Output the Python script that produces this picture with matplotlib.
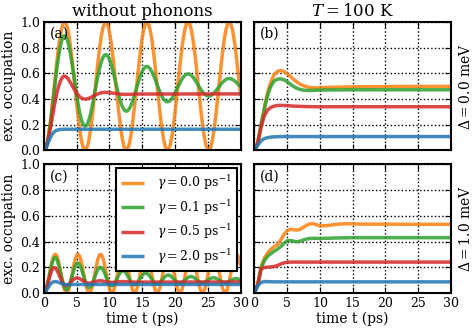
import numpy as np
import matplotlib
matplotlib.use("Agg")
import matplotlib.pyplot as plt

# ---- data (occupation vs time in ps) ----
gamma_labels = [r"$\gamma=0.0$ ps$^{-1}$", r"$\gamma=0.1$ ps$^{-1}$",
                r"$\gamma=0.5$ ps$^{-1}$", r"$\gamma=2.0$ ps$^{-1}$"]
colors = ["#ff7f0e", "#2ca02c", "#d62728", "#1f77b4"]

# sample grid of the oscillating curves (0.25 ps)
t_fine = np.arange(0, 30.001, 0.25)

# (a) without phonons, Delta = 0
a_orange = [0.000, 0.016, 0.061, 0.134,
            0.230, 0.342, 0.465, 0.589,
            0.708, 0.814, 0.901, 0.962,
            0.995, 0.997, 0.968, 0.910,
            0.827, 0.723, 0.605, 0.481,
            0.358, 0.244, 0.146, 0.069,
            0.020, 0.000, 0.012, 0.054,
            0.123, 0.216, 0.327, 0.448,
            0.573, 0.693, 0.801, 0.890,
            0.956, 0.992, 0.999, 0.974,
            0.920, 0.841, 0.738, 0.622,
            0.498, 0.374, 0.258, 0.157,
            0.078, 0.025, 0.001, 0.008,
            0.046, 0.112, 0.203, 0.311,
            0.432, 0.556, 0.677, 0.788,
            0.880, 0.948, 0.989, 1.000,
            0.979, 0.928, 0.852, 0.754,
            0.638, 0.514, 0.390, 0.273,
            0.170, 0.087, 0.030, 0.002,
            0.006, 0.040, 0.102, 0.189,
            0.296, 0.415, 0.540, 0.662,
            0.774, 0.869, 0.941, 0.986,
            1.000, 0.983, 0.937, 0.863,
            0.766, 0.654, 0.531, 0.406,
            0.288, 0.182, 0.097, 0.036,
            0.004, 0.003, 0.033, 0.092,
            0.177, 0.281, 0.399, 0.523,
            0.646, 0.760, 0.858, 0.933,
            0.981, 1.000, 0.987, 0.944,
            0.874, 0.780, 0.669, 0.548,
            0.423]
a_green = [0.000, 0.015, 0.060, 0.130,
           0.220, 0.324, 0.435, 0.546,
           0.650, 0.741, 0.813, 0.864,
           0.891, 0.893, 0.870, 0.826,
           0.763, 0.687, 0.601, 0.513,
           0.427, 0.349, 0.283, 0.233,
           0.201, 0.188, 0.195, 0.221,
           0.262, 0.317, 0.381, 0.450,
           0.520, 0.585, 0.643, 0.690,
           0.724, 0.743, 0.746, 0.734,
           0.708, 0.671, 0.623, 0.571,
           0.515, 0.462, 0.412, 0.369,
           0.337, 0.315, 0.306, 0.308,
           0.323, 0.348, 0.381, 0.420,
           0.463, 0.507, 0.548, 0.585,
           0.615, 0.638, 0.651, 0.654,
           0.647, 0.632, 0.610, 0.582,
           0.549, 0.514, 0.480, 0.449,
           0.422, 0.400, 0.386, 0.379,
           0.380, 0.388, 0.403, 0.423,
           0.447, 0.473, 0.501, 0.527,
           0.550, 0.570, 0.584, 0.593,
           0.596, 0.593, 0.584, 0.571,
           0.553, 0.533, 0.512, 0.490,
           0.471, 0.453, 0.439, 0.430,
           0.425, 0.425, 0.429, 0.438,
           0.450, 0.465, 0.481, 0.498,
           0.515, 0.530, 0.542, 0.552,
           0.558, 0.560, 0.558, 0.553,
           0.545, 0.535, 0.522, 0.509,
           0.496]
t_a_red = [0.0, 0.25, 0.5, 0.75, 1.0, 1.25, 1.5, 1.75, 2.0, 2.25, 2.5, 2.75,
           3.0, 3.25, 3.5, 3.75, 4.0, 4.25, 4.5, 4.75, 5.0, 5.25, 5.5, 5.75,
           6.0, 6.25, 6.5, 6.75, 7.0, 7.25, 7.5, 7.75, 8.0, 8.25, 8.5, 8.75,
           9.0, 9.25, 9.5, 9.75, 10.0, 10.5, 11.0, 11.5, 12.0, 13.0, 14.0, 30.0]
a_red = [0.000, 0.015, 0.054, 0.112, 0.181, 0.255, 0.328, 0.396, 0.455, 0.502, 0.540, 0.565,
         0.578, 0.578, 0.568, 0.552, 0.531, 0.509, 0.486, 0.465, 0.445, 0.429, 0.416, 0.407,
         0.402, 0.400, 0.401, 0.404, 0.409, 0.415, 0.422, 0.429, 0.435, 0.441, 0.445, 0.449,
         0.451, 0.452, 0.452, 0.452, 0.450, 0.447, 0.443, 0.439, 0.437, 0.437, 0.439, 0.440]
t_a_blue = [0.0, 0.25, 0.5, 0.75, 1.0, 1.25, 1.5, 1.75, 2.0, 2.25, 2.5, 2.75, 3.0, 30.0]
a_blue = [0.000, 0.012, 0.040, 0.075, 0.103, 0.126, 0.142, 0.152, 0.158, 0.161, 0.163, 0.164,
          0.165, 0.165]

# (b) T = 100 K, Delta = 0
t_b = [0.0, 0.5, 1.0, 1.5, 2.0, 2.5, 3.0, 3.5, 4.0, 4.5, 5.0, 5.5, 6.0, 6.5, 7.0, 7.5,
       8.0, 8.5, 9.0, 9.5, 10.0, 12.0, 15.0, 20.0, 25.0, 30.0]
b_orange = [0.000, 0.060, 0.200, 0.330, 0.450, 0.535, 0.590, 0.615, 0.622, 0.615, 0.598,
            0.575, 0.552, 0.532, 0.515, 0.503, 0.495, 0.490, 0.488, 0.488, 0.489,
            0.492, 0.495, 0.497, 0.498, 0.498]
b_green = [0.000, 0.060, 0.195, 0.320, 0.430, 0.500, 0.540, 0.555, 0.557, 0.550, 0.535,
           0.515, 0.497, 0.483, 0.474, 0.469, 0.467, 0.467, 0.468, 0.469, 0.470,
           0.471, 0.472, 0.472, 0.472, 0.472]
b_red = [0.000, 0.060, 0.180, 0.270, 0.315, 0.335, 0.345, 0.350, 0.351, 0.350, 0.349,
         0.347, 0.345, 0.344, 0.343, 0.342, 0.341, 0.341, 0.340, 0.340, 0.340,
         0.340, 0.340, 0.340, 0.340, 0.340]
b_blue = [0.000, 0.040, 0.075, 0.092, 0.100, 0.104, 0.106, 0.107, 0.108, 0.108, 0.108,
          0.108, 0.108, 0.108, 0.108, 0.108, 0.108, 0.108, 0.108, 0.108, 0.108,
          0.108, 0.108, 0.108, 0.108, 0.108]

# (c) without phonons, Delta = 1 meV
c_orange = [0.000, 0.015, 0.058, 0.120,
            0.188, 0.249, 0.290, 0.302,
            0.284, 0.239, 0.176, 0.108,
            0.049, 0.010, 0.001, 0.021,
            0.068, 0.132, 0.200, 0.258,
            0.294, 0.301, 0.278, 0.229,
            0.164, 0.096, 0.040, 0.006,
            0.002, 0.028, 0.079, 0.145,
            0.212, 0.266, 0.298, 0.299,
            0.271, 0.218, 0.152, 0.085,
            0.032, 0.003, 0.005, 0.036,
            0.090, 0.157, 0.223, 0.274,
            0.300, 0.296, 0.263, 0.207,
            0.139, 0.074, 0.025, 0.001,
            0.008, 0.044, 0.101, 0.169,
            0.233, 0.281, 0.302, 0.292,
            0.254, 0.195, 0.127, 0.064,
            0.019, 0.000, 0.012, 0.053,
            0.113, 0.181, 0.243, 0.287,
            0.302, 0.288, 0.245, 0.183,
            0.115, 0.054, 0.013, 0.000,
            0.018, 0.063, 0.125, 0.193,
            0.253, 0.292, 0.302, 0.282,
            0.235, 0.171, 0.103, 0.045,
            0.009, 0.001, 0.024, 0.073,
            0.137, 0.205, 0.262, 0.296,
            0.301, 0.275, 0.224, 0.159,
            0.092, 0.037, 0.005, 0.003,
            0.031, 0.084, 0.150, 0.216,
            0.270, 0.299, 0.298, 0.268,
            0.213]
c_green = [0.000, 0.017, 0.060, 0.119,
           0.181, 0.235, 0.268, 0.276,
           0.257, 0.216, 0.162, 0.107,
           0.060, 0.031, 0.025, 0.042,
           0.077, 0.123, 0.170, 0.208,
           0.230, 0.232, 0.214, 0.181,
           0.139, 0.097, 0.064, 0.045,
           0.043, 0.059, 0.088, 0.123,
           0.158, 0.185, 0.199, 0.198,
           0.182, 0.155, 0.122, 0.092,
           0.068, 0.056, 0.057, 0.071,
           0.094, 0.121, 0.147, 0.166,
           0.174, 0.171, 0.157, 0.136,
           0.111, 0.088, 0.072, 0.064,
           0.067, 0.079, 0.097, 0.118,
           0.137, 0.150, 0.155, 0.151,
           0.139, 0.122, 0.103, 0.086,
           0.075, 0.070, 0.074, 0.084,
           0.098, 0.114, 0.128, 0.137,
           0.139, 0.135, 0.125, 0.112,
           0.098, 0.085, 0.078, 0.075,
           0.079, 0.087, 0.099, 0.110,
           0.120, 0.126, 0.127, 0.123,
           0.115, 0.104, 0.094, 0.085,
           0.080, 0.079, 0.082, 0.089,
           0.098, 0.107, 0.114, 0.118,
           0.118, 0.114, 0.107, 0.099,
           0.091, 0.085, 0.082, 0.081,
           0.085, 0.090, 0.097, 0.103,
           0.108, 0.111, 0.110, 0.107,
           0.102]
t_c_red = [0.0, 0.25, 0.5, 0.75, 1.0, 1.25, 1.5, 1.75, 2.0, 2.25, 2.5, 2.75,
           3.0, 3.25, 3.5, 3.75, 4.0, 4.25, 4.5, 4.75, 5.0, 5.25, 5.5, 5.75,
           6.0, 6.25, 6.5, 6.75, 7.0, 7.25, 7.5, 7.75, 8.0, 8.25, 8.5, 8.75,
           9.0, 9.25, 9.5, 9.75, 10.0, 10.5, 11.0, 11.5, 12.0, 12.5, 13.0, 14.0, 30.0]
c_red = [0.000, 0.020, 0.059, 0.107, 0.150, 0.182, 0.197, 0.193, 0.175, 0.148, 0.117, 0.089,
         0.069, 0.058, 0.057, 0.065, 0.078, 0.092, 0.105, 0.113, 0.117, 0.115, 0.109, 0.101,
         0.092, 0.084, 0.079, 0.076, 0.076, 0.079, 0.083, 0.087, 0.091, 0.093, 0.094, 0.094,
         0.092, 0.089, 0.086, 0.084, 0.083, 0.082, 0.084, 0.087, 0.088, 0.087, 0.085, 0.084,
         0.085]
t_c_blue = [0.0, 0.25, 0.5, 0.75, 1.0, 1.25, 1.5, 1.75, 2.0, 2.25, 2.5, 2.75, 3.0, 3.25,
            3.5, 3.75, 4.0, 4.5, 5.0, 30.0]
c_blue = [0.000, 0.010, 0.030, 0.052, 0.070, 0.082, 0.087, 0.088, 0.086, 0.082, 0.077, 0.072,
          0.068, 0.065, 0.064, 0.064, 0.065, 0.066, 0.066, 0.066]

# (d) T = 100 K, Delta = 1 meV
t_d = [0.0, 0.5, 1.0, 1.5, 2.0, 2.5, 3.0, 3.5, 4.0, 4.5, 5.0, 5.5, 6.0, 6.5, 7.0, 7.5,
       8.0, 8.5, 9.0, 9.5, 10.0, 11.0, 12.0, 13.0, 14.0, 15.0, 17.0, 20.0, 25.0, 30.0]
d_orange = [0.000, 0.065, 0.200, 0.270, 0.310, 0.340, 0.360, 0.375, 0.410, 0.455, 0.485,
            0.495, 0.492, 0.489, 0.495, 0.512, 0.528, 0.537, 0.538, 0.530, 0.522,
            0.524, 0.530, 0.536, 0.538, 0.537, 0.535, 0.535, 0.534, 0.534]
d_green = [0.000, 0.065, 0.190, 0.250, 0.285, 0.305, 0.325, 0.340, 0.360, 0.385, 0.405,
           0.408, 0.402, 0.398, 0.403, 0.413, 0.420, 0.424, 0.425, 0.424, 0.424,
           0.425, 0.427, 0.428, 0.429, 0.430, 0.430, 0.430, 0.430, 0.430]
d_red = [0.000, 0.065, 0.185, 0.198, 0.200, 0.202, 0.206, 0.213, 0.225, 0.234, 0.238,
         0.240, 0.240, 0.240, 0.240, 0.240, 0.240, 0.240, 0.240, 0.240, 0.240,
         0.240, 0.240, 0.240, 0.240, 0.240, 0.240, 0.240, 0.240, 0.240]
d_blue = [0.000, 0.055, 0.082, 0.088, 0.088, 0.087, 0.086, 0.086, 0.086, 0.086, 0.086,
          0.086, 0.086, 0.086, 0.086, 0.086, 0.086, 0.086, 0.086, 0.086, 0.086,
          0.086, 0.086, 0.086, 0.086, 0.086, 0.086, 0.086, 0.086, 0.086]

# ---- style ----
plt.rcParams["font.family"] = "DejaVu Serif"
plt.rcParams["mathtext.fontset"] = "dejavuserif"
plt.rcParams["font.size"] = 10
plt.rcParams["xtick.direction"] = "in"
plt.rcParams["ytick.direction"] = "in"
plt.rcParams["xtick.top"] = True
plt.rcParams["ytick.right"] = True
plt.rcParams["xtick.major.size"] = 4
plt.rcParams["ytick.major.size"] = 4
plt.rcParams["axes.linewidth"] = 1.5

fig = plt.figure(figsize=(4.74, 3.28), dpi=100)
gs = fig.add_gridspec(2, 2, left=0.0928, right=0.9515, top=0.933, bottom=0.107,
                      wspace=0.071, hspace=0.109)
ax_a = fig.add_subplot(gs[0, 0])
ax_b = fig.add_subplot(gs[0, 1])
ax_c = fig.add_subplot(gs[1, 0])
ax_d = fig.add_subplot(gs[1, 1])

panels = [
    (ax_a, "(a)", [(t_fine, a_orange), (t_fine, a_green), (t_a_red, a_red), (t_a_blue, a_blue)]),
    (ax_b, "(b)", [(t_b, b_orange), (t_b, b_green), (t_b, b_red), (t_b, b_blue)]),
    (ax_c, "(c)", [(t_fine, c_orange), (t_fine, c_green), (t_c_red, c_red), (t_c_blue, c_blue)]),
    (ax_d, "(d)", [(t_d, d_orange), (t_d, d_green), (t_d, d_red), (t_d, d_blue)]),
]

for ax, tag, curves in panels:
    for (t, y), col, lab in zip(curves, colors, gamma_labels):
        ax.plot(t, y, color=col, lw=2.5, alpha=0.85, label=lab, solid_capstyle="butt")
    ax.set_xlim(0, 30)
    ax.set_ylim(0, 1)
    ax.set_xticks([0, 5, 10, 15, 20, 25, 30])
    ax.set_yticks([0.0, 0.2, 0.4, 0.6, 0.8, 1.0])
    ax.grid(True, color="black", ls=":", lw=1.0)
    ax.tick_params(labelsize=9, pad=3)
    ax.text(0.03, 0.96, tag, transform=ax.transAxes, ha="left", va="top", fontsize=10)

for ax in (ax_a, ax_b):
    ax.tick_params(labelbottom=False)
for ax in (ax_b, ax_d):
    ax.tick_params(labelleft=False)
for ax in (ax_a, ax_c):
    ax.set_ylabel("exc. occupation", fontsize=10, labelpad=3)
    ax.set_yticklabels(["0.0", "0.2", "0.4", "0.6", "0.8", "1.0"])
for ax in (ax_c, ax_d):
    ax.set_xlabel("time t (ps)", fontsize=10, labelpad=1)

ax_a.set_title("without phonons", fontsize=12, pad=4)
ax_b.set_title(r"$T=100$ K", fontsize=12, pad=4)
ax_b.text(1.035, 0.5, r"$\Delta=0.0$ meV", transform=ax_b.transAxes, rotation=90,
          ha="left", va="center", fontsize=10)
ax_d.text(1.035, 0.5, r"$\Delta=1.0$ meV", transform=ax_d.transAxes, rotation=90,
          ha="left", va="center", fontsize=10)

leg = ax_c.legend(loc="upper right", fontsize=9, frameon=True, fancybox=False,
                  edgecolor="black", framealpha=1, handlelength=1.9, handletextpad=1.0,
                  borderaxespad=0.3, labelspacing=0.45)
leg.get_frame().set_linewidth(1.5)

fig.savefig("out.png", dpi=100)
